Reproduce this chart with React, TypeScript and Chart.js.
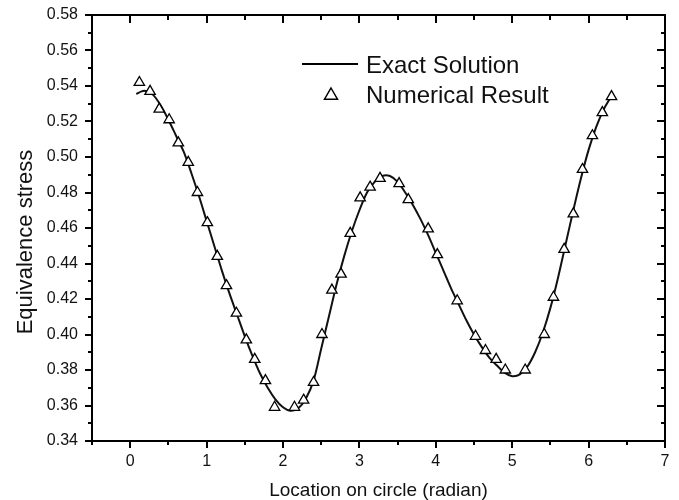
import React, { useEffect, useRef } from "react";
import { Chart, registerables } from "chart.js";

Chart.register(...registerables);

// ---- data ----
const exactX = [0.08, 0.15, 0.2, 0.3, 0.4, 0.5, 0.6, 0.7, 0.8, 0.9, 1.0, 1.1, 1.2, 1.3, 1.4, 1.5, 1.6, 1.7, 1.8, 1.9, 2.0, 2.1, 2.2, 2.3, 2.4, 2.5, 2.6, 2.7, 2.8, 2.9, 3.0, 3.1, 3.2, 3.3, 3.4, 3.5, 3.6, 3.7, 3.8, 3.9, 4.0, 4.1, 4.2, 4.3, 4.4, 4.5, 4.6, 4.7, 4.8, 4.9, 5.0, 5.1, 5.2, 5.3, 5.4, 5.5, 5.6, 5.7, 5.8, 5.9, 6.0, 6.1, 6.2, 6.28];
const exactY = [0.5355, 0.537, 0.5372, 0.535, 0.529, 0.521, 0.512, 0.503, 0.491, 0.478, 0.464, 0.45, 0.436, 0.423, 0.411, 0.399, 0.388, 0.378, 0.37, 0.3635, 0.359, 0.357, 0.3585, 0.364, 0.374, 0.392, 0.41, 0.428, 0.444, 0.458, 0.47, 0.48, 0.486, 0.4893, 0.4893, 0.486, 0.48, 0.473, 0.465, 0.456, 0.446, 0.436, 0.426, 0.417, 0.408, 0.4, 0.393, 0.387, 0.3825, 0.3785, 0.3765, 0.3775, 0.382, 0.39, 0.401, 0.415, 0.432, 0.451, 0.47, 0.488, 0.504, 0.517, 0.527, 0.533];

const numX = [0.12, 0.26, 0.38, 0.51, 0.63, 0.76, 0.88, 1.01, 1.14, 1.26, 1.39, 1.52, 1.63, 1.77, 1.89, 2.15, 2.27, 2.4, 2.51, 2.64, 2.76, 2.88, 3.01, 3.14, 3.27, 3.52, 3.64, 3.9, 4.02, 4.28, 4.52, 4.65, 4.79, 4.91, 5.17, 5.42, 5.54, 5.68, 5.8, 5.92, 6.05, 6.18, 6.3];
const numY = [0.542, 0.537, 0.527, 0.521, 0.508, 0.497, 0.48, 0.463, 0.444, 0.4275, 0.412, 0.397, 0.386, 0.374, 0.359, 0.359, 0.363, 0.373, 0.4, 0.425, 0.434, 0.457, 0.477, 0.483, 0.488, 0.485, 0.476, 0.4595, 0.445, 0.419, 0.399, 0.391, 0.386, 0.38, 0.38, 0.4, 0.421, 0.448, 0.468, 0.493, 0.512, 0.525, 0.534];

const xTicks = [0, 1, 2, 3, 4, 5, 6, 7];
const xMinorTicks = [-0.5, 0.5, 1.5, 2.5, 3.5, 4.5, 5.5, 6.5];
const yTicks = [0.34, 0.36, 0.38, 0.4, 0.42, 0.44, 0.46, 0.48, 0.5, 0.52, 0.54, 0.56, 0.58];
const yMinorTicks = [0.35, 0.37, 0.39, 0.41, 0.43, 0.45, 0.47, 0.49, 0.51, 0.53, 0.55, 0.57];

const seriesLabels = ["Exact Solution", "Numerical Result"];
const xTitle = "Location on circle (radian)";
const yTitle = "Equivalence stress";

const FONT = '"Liberation Sans", Arial, sans-serif';

const framePlugin = {
  id: "frameAndExtras",
  afterDatasetsDraw(chart: any) {
    const { ctx, chartArea: a, scales } = chart;
    const x = scales.x;
    const y = scales.y;
    ctx.save();
    ctx.strokeStyle = "#000";
    ctx.lineWidth = 2;
    ctx.strokeRect(a.left, a.top, a.right - a.left, a.bottom - a.top);

    ctx.lineWidth = 2;
    ctx.beginPath();
    for (const v of xTicks) {
      const px = Math.round(x.getPixelForValue(v));
      ctx.moveTo(px, a.bottom);
      ctx.lineTo(px, a.bottom + 7);
      ctx.moveTo(px, a.top);
      ctx.lineTo(px, a.top + 8);
    }
    for (const v of xMinorTicks) {
      const px = Math.round(x.getPixelForValue(v));
      ctx.moveTo(px, a.bottom);
      ctx.lineTo(px, a.bottom + 4);
      ctx.moveTo(px, a.top);
      ctx.lineTo(px, a.top + 5);
    }
    for (const v of yTicks) {
      const py = Math.round(y.getPixelForValue(v));
      ctx.moveTo(a.left, py);
      ctx.lineTo(a.left - 7, py);
      ctx.moveTo(a.right, py);
      ctx.lineTo(a.right - 8, py);
    }
    for (const v of yMinorTicks) {
      const py = Math.round(y.getPixelForValue(v));
      ctx.moveTo(a.left, py);
      ctx.lineTo(a.left - 4, py);
      ctx.moveTo(a.right, py);
      ctx.lineTo(a.right - 4, py);
    }
    ctx.stroke();

    // legend
    ctx.lineWidth = 2;
    ctx.beginPath();
    ctx.moveTo(302, 64);
    ctx.lineTo(358, 64);
    ctx.stroke();
    const tx = 331, ty = 95.5, r = 7.5;
    ctx.beginPath();
    ctx.moveTo(tx, ty - r);
    ctx.lineTo(tx + 0.866 * r, ty + 0.5 * r);
    ctx.lineTo(tx - 0.866 * r, ty + 0.5 * r);
    ctx.closePath();
    ctx.fillStyle = "#fff";
    ctx.fill();
    ctx.lineWidth = 1.5;
    ctx.stroke();

    ctx.fillStyle = "#111";
    ctx.font = `24px ${FONT}`;
    ctx.textAlign = "left";
    ctx.textBaseline = "alphabetic";
    ctx.fillText(seriesLabels[0], 366, 73);
    ctx.fillText(seriesLabels[1], 366, 103);

    // axis titles
    ctx.font = `19px ${FONT}`;
    ctx.textAlign = "center";
    ctx.fillText(xTitle, (a.left + a.right) / 2, 496);

    ctx.save();
    ctx.translate(32, 242);
    ctx.rotate(-Math.PI / 2);
    ctx.font = `22px ${FONT}`;
    ctx.textAlign = "center";
    ctx.fillText(yTitle, 0, 0);
    ctx.restore();

    ctx.restore();
  },
};

export default function App() {
  const ref = useRef<HTMLCanvasElement | null>(null);

  useEffect(() => {
    document.body.style.margin = "0";
    const canvas = ref.current;
    if (!canvas) return;
    const chart = new Chart(canvas, {
      type: "scatter",
      data: {
        datasets: [
          {
            label: seriesLabels[1],
            data: numX.map((v, i) => ({ x: v, y: numY[i] })),
            showLine: false,
            pointStyle: "triangle",
            pointRadius: 6,
            pointBackgroundColor: "#fff",
            pointBorderColor: "#000",
            pointBorderWidth: 1.3,
            order: 0,
          },
          {
            label: seriesLabels[0],
            data: exactX.map((v, i) => ({ x: v, y: exactY[i] })),
            showLine: true,
            borderColor: "#111",
            borderWidth: 2,
            pointRadius: 0,
            tension: 0.3,
            fill: false,
            order: 1,
          },
        ],
      },
      options: {
        responsive: false,
        animation: false,
        devicePixelRatio: 1,
        layout: { padding: { left: 0, right: 14, top: 15, bottom: 0 } },
        plugins: {
          legend: { display: false },
          tooltip: { enabled: false },
        },
        scales: {
          x: {
            type: "linear",
            min: -0.5,
            max: 7,
            afterBuildTicks: (s: any) => {
              s.ticks = xTicks.map((v) => ({ value: v }));
            },
            afterFit: (s: any) => {
              s.height = 59;
              s.paddingLeft = 0;
              s.paddingRight = 0;
              s.paddingTop = 0;
              s.paddingBottom = 0;
            },
            grid: { display: false, drawTicks: false },
            border: { display: false },
            ticks: {
              autoSkip: false,
              maxRotation: 0,
              padding: 11,
              color: "#111",
              font: { family: FONT, size: 16 },
              callback: (v: any) => String(v),
            },
          },
          y: {
            type: "linear",
            min: 0.34,
            max: 0.58,
            afterBuildTicks: (s: any) => {
              s.ticks = yTicks.map((v) => ({ value: v }));
            },
            afterFit: (s: any) => {
              s.width = 92;
              s.paddingLeft = 0;
              s.paddingRight = 0;
              s.paddingTop = 0;
              s.paddingBottom = 0;
            },
            grid: { display: false, drawTicks: false },
            border: { display: false },
            ticks: {
              autoSkip: false,
              padding: 14,
              color: "#111",
              font: { family: FONT, size: 16 },
              callback: (v: any) => Number(v).toFixed(2),
            },
          },
        },
      },
      plugins: [framePlugin],
    } as any);
    return () => chart.destroy();
  }, []);

  return (
    <div style={{ width: 679, height: 500, background: "#fff" }}>
      <canvas ref={ref} width={679} height={500} style={{ display: "block" }} />
    </div>
  );
}
